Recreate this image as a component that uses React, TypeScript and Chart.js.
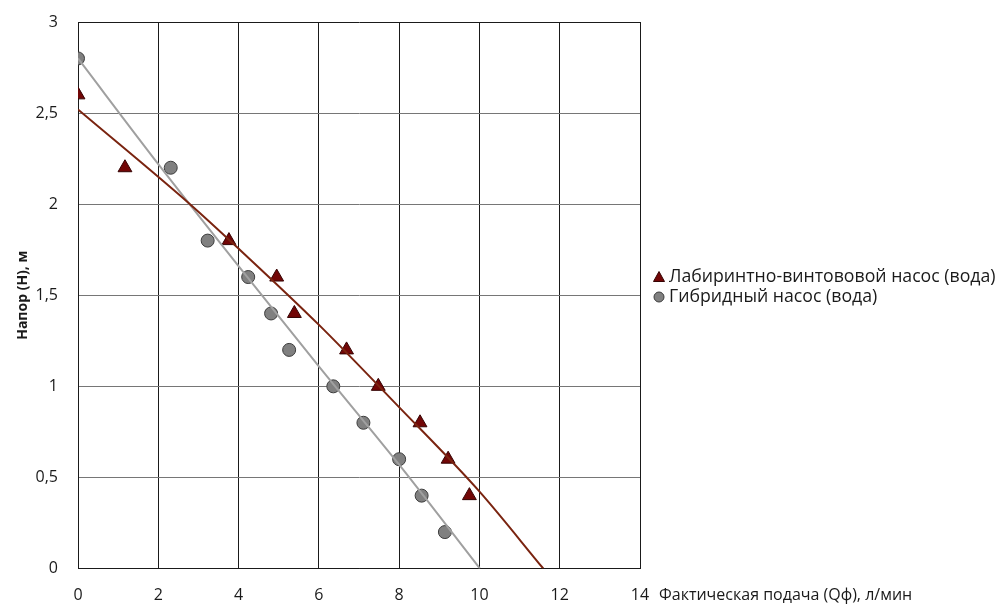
import React, { useEffect, useRef } from "react";
import { Chart, registerables } from "chart.js";

Chart.register(...registerables);

// Axis ticks
const xTickValues = [0, 2, 4, 6, 8, 10, 12, 14];
const yTickValues = [0, 0.5, 1, 1.5, 2, 2.5, 3];

// Лабиринтно-винтововой насос (вода)
const labyrinthQ = [0, 1.17, 3.76, 4.95, 5.39, 6.69, 7.48, 8.52, 9.22, 9.75];
const labyrinthH = [2.6, 2.2, 1.8, 1.6, 1.4, 1.2, 1.0, 0.8, 0.6, 0.4];

// Гибридный насос (вода)
const hybridQ = [0, 2.31, 3.23, 4.24, 4.81, 5.26, 6.36, 7.11, 8.0, 8.56, 9.14];
const hybridH = [2.8, 2.2, 1.8, 1.6, 1.4, 1.2, 1.0, 0.8, 0.6, 0.4, 0.2];

// Trend lines
const labyrinthTrendQ = [0, 2.79, 4.03, 5.99, 7.98, 9.97, 11.59];
const labyrinthTrendH = [2.52, 2.0, 1.75, 1.34, 0.89, 0.43, 0];
const hybridTrendQ = [0, 2, 4, 6, 8, 10.01];
const hybridTrendH = [2.8, 2.22, 1.66, 1.11, 0.57, 0];

const legendLabels = ["Лабиринтно-винтововой насос (вода)", "Гибридный насос (вода)"];
const xTitle = "Фактическая подача (Qф), л/мин";
const yTitle = "Напор (Н), м";

const FONT = "'Open Sans', 'Noto Sans', sans-serif";
const RED = "#720606";
const RED_EDGE = "#350303";
const GRAY = "#808080";
const GRAY_EDGE = "#3c3c3c";
const TEXT = "#1a1a1a";

const zip = (xs: number[], ys: number[]) => xs.map((x, i) => ({ x, y: ys[i] }));

const extrasPlugin = {
  id: "extras",
  afterDraw(chart: any) {
    const ctx = chart.ctx as CanvasRenderingContext2D;
    const xs = chart.scales.x;
    ctx.save();
    // x-axis title to the right of last tick
    ctx.font = `16px ${FONT}`;
    ctx.fillStyle = TEXT;
    ctx.textBaseline = "middle";
    ctx.textAlign = "left";
    const lastPx = xs.getPixelForValue(14);
    ctx.fillText(xTitle, lastPx + 19, 595);

    // legend
    const lx = 659;
    const rows = [277, 297];
    ctx.beginPath();
    ctx.moveTo(lx, rows[0] - 5.5);
    ctx.lineTo(lx + 5.5, rows[0] + 4.5);
    ctx.lineTo(lx - 5.5, rows[0] + 4.5);
    ctx.closePath();
    ctx.fillStyle = RED;
    ctx.fill();
    ctx.lineWidth = 1;
    ctx.strokeStyle = RED_EDGE;
    ctx.stroke();
    ctx.beginPath();
    ctx.arc(lx, rows[1], 5, 0, Math.PI * 2);
    ctx.fillStyle = GRAY;
    ctx.fill();
    ctx.strokeStyle = GRAY_EDGE;
    ctx.stroke();
    ctx.fillStyle = TEXT;
    ctx.font = `17.7px ${FONT}`;
    ctx.fillText(legendLabels[0], lx + 10, rows[0]);
    ctx.fillText(legendLabels[1], lx + 10, rows[1]);
    ctx.restore();
  },
};

export default function App() {
  const ref = useRef<HTMLCanvasElement | null>(null);

  useEffect(() => {
    if (!ref.current) return;
    const chart = new Chart(ref.current, {
      type: "scatter",
      data: {
        datasets: [
          {
            type: "line",
            label: "trend1",
            data: zip(labyrinthTrendQ, labyrinthTrendH),
            borderColor: "#7a2410",
            borderWidth: 2,
            pointRadius: 0,
            cubicInterpolationMode: "monotone",
            fill: false,
          } as any,
          {
            type: "line",
            label: "trend2",
            data: zip(hybridTrendQ, hybridTrendH),
            borderColor: "#a0a0a0",
            borderWidth: 2,
            pointRadius: 0,
            cubicInterpolationMode: "monotone",
            fill: false,
          } as any,
          {
            label: legendLabels[0],
            data: zip(labyrinthQ, labyrinthH),
            pointStyle: "triangle",
            pointRadius: 8,
            backgroundColor: RED,
            borderColor: RED_EDGE,
            borderWidth: 1,
          },
          {
            label: legendLabels[1],
            data: zip(hybridQ, hybridH),
            pointStyle: "circle",
            pointRadius: 6.5,
            backgroundColor: GRAY,
            borderColor: GRAY_EDGE,
            borderWidth: 1,
          },
        ],
      },
      options: {
        animation: false,
        responsive: true,
        maintainAspectRatio: false,
        layout: { padding: { top: 22, right: 362, left: 0, bottom: 0 } },
        plugins: {
          legend: { display: false },
          tooltip: { enabled: false },
        },
        scales: {
          x: {
            type: "linear",
            min: 0,
            max: 14,
            afterFit: (s: any) => {
              s.height = 36.5;
            },
            afterBuildTicks: (s: any) => {
              s.ticks = xTickValues.map((v) => ({ value: v }));
            },
            ticks: {
              font: { family: FONT, size: 16 },
              color: TEXT,
              padding: 17,
              maxRotation: 0,
            },
            grid: { color: TEXT, lineWidth: 1, drawTicks: false },
            border: { color: TEXT, width: 1 },
          },
          y: {
            type: "linear",
            min: 0,
            max: 3,
            afterFit: (s: any) => {
              s.width = 78;
            },
            afterBuildTicks: (s: any) => {
              s.ticks = yTickValues.map((v) => ({ value: v }));
            },
            ticks: {
              font: { family: FONT, size: 16 },
              color: TEXT,
              padding: 0,
              callback: (v: any) => String(v).replace(".", ","),
            },
            grid: {
              color: (c: any) =>
                c.tick && (c.tick.value === 0 || c.tick.value === 3) ? TEXT : "#767676",
              lineWidth: 1,
              drawTicks: true,
              tickLength: 20,
              tickColor: "rgba(0,0,0,0)",
            },
            border: { color: TEXT, width: 1 },
            title: {
              display: true,
              text: yTitle,
              font: { family: FONT, size: 14, weight: "bold" },
              color: TEXT,
              padding: { top: 15, bottom: 0 },
            },
          },
        },
      },
      plugins: [extrasPlugin],
    });
    return () => chart.destroy();
  }, []);

  return (
    <div style={{ position: "fixed", left: 0, top: 0, width: 1002, height: 605, background: "#fff" }}>
      <canvas ref={ref} />
    </div>
  );
}
